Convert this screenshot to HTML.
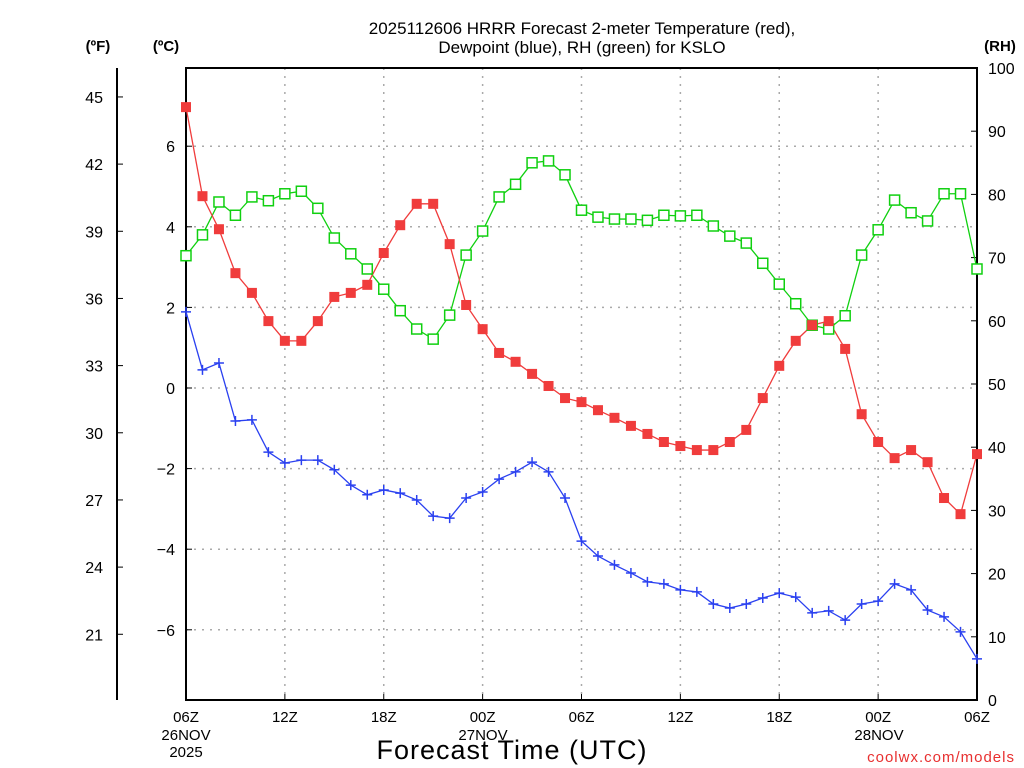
<!DOCTYPE html>
<html><head><meta charset="utf-8"><style>
body{margin:0;background:#fff;}
svg{display:block;font-family:"Liberation Sans",sans-serif;}
</style></head><body>
<svg id="chart" width="1024" height="768" viewBox="0 0 1024 768" xmlns="http://www.w3.org/2000/svg">
<rect width="1024" height="768" fill="#fff"/>
<g id="grid"></g><g id="axes"></g><g id="series"></g>
</svg>
<script>
const tempC=[6.97,4.76,3.94,2.85,2.36,1.66,1.17,1.17,1.66,2.26,2.36,2.56,3.35,4.04,4.57,4.57,3.57,2.06,1.46,0.87,0.65,0.35,0.05,-0.25,-0.35,-0.55,-0.74,-0.94,-1.14,-1.34,-1.44,-1.54,-1.54,-1.34,-1.04,-0.25,0.55,1.17,1.56,1.66,0.97,-0.65,-1.34,-1.74,-1.54,-1.84,-2.73,-3.13,-1.64];
const dewC=[1.89,0.45,0.62,-0.82,-0.79,-1.59,-1.86,-1.79,-1.79,-2.03,-2.41,-2.65,-2.53,-2.61,-2.78,-3.18,-3.23,-2.73,-2.58,-2.26,-2.08,-1.84,-2.08,-2.73,-3.80,-4.17,-4.39,-4.59,-4.81,-4.86,-5.01,-5.06,-5.36,-5.46,-5.36,-5.21,-5.09,-5.19,-5.58,-5.53,-5.76,-5.36,-5.29,-4.86,-5.01,-5.51,-5.68,-6.05,-6.72];
const rh=[70.3,73.6,78.8,76.7,79.6,79.0,80.1,80.5,77.8,73.1,70.6,68.2,65.0,61.6,58.7,57.1,60.9,70.4,74.2,79.6,81.6,85.0,85.3,83.1,77.5,76.4,76.1,76.1,75.9,76.7,76.6,76.7,75.0,73.4,72.3,69.1,65.8,62.7,59.3,58.7,60.8,70.4,74.4,79.1,77.1,75.8,80.1,80.1,68.2];
const xTickLabels=["06Z","12Z","18Z","00Z","06Z","12Z","18Z","00Z","06Z"];
const cTicks=[6,4,2,0,-2,-4,-6];
const fTicks=[45,42,39,36,33,30,27,24,21];
const rhTicks=[0,10,20,30,40,50,60,70,80,90,100];

const NS="http://www.w3.org/2000/svg";
const L=186,R=977,T=68,B=700;
const xS=i=>L+(R-L)*i/48;
const yC=c=>388-c*40.3;
const yF=f=>yC((f-32)*5/9);
const yRH=v=>B-(B-T)*v/100;
function mk(tag,attrs,parent,text){const e=document.createElementNS(NS,tag);for(const k in attrs)e.setAttribute(k,attrs[k]);if(text!==undefined)e.textContent=text;(parent||document.getElementById('chart')).appendChild(e);return e;}
const grid=document.getElementById('grid'),axes=document.getElementById('axes'),ser=document.getElementById('series');

// grid
xTickLabels.forEach((t,k)=>{const x=xS(k*6);if(k>0&&k<8){const g=mk('line',{x1:x,x2:x,y1:T,y2:B,stroke:'#aaa','stroke-dasharray':'2,6','stroke-width':1.5},grid);}});
cTicks.forEach(c=>{const g=mk('line',{x1:L,x2:R,y1:yC(c),y2:yC(c),stroke:'#aaa','stroke-dasharray':'2,6','stroke-width':1.5},grid);});

// frame
let e=mk('rect',{x:L,y:T,width:R-L,height:B-T,fill:'none',stroke:'#000','stroke-width':2},axes);
e=mk('line',{x1:117,x2:117,y1:T,y2:B,stroke:'#000','stroke-width':2},axes);

fTicks.forEach(f=>{const y=yF(f);mk('line',{x1:117,x2:123,y1:y,y2:y,stroke:'#000'},axes);const t=mk('text',{x:103,y:y+6,'text-anchor':'end','font-size':16},axes,String(f));});
cTicks.forEach(c=>{const y=yC(c);mk('line',{x1:L,x2:L+6,y1:y,y2:y,stroke:'#000'},axes);const t=mk('text',{x:175,y:y+6,'text-anchor':'end','font-size':16},axes,(c<0?'\u2212'+(-c):String(c)));});
rhTicks.forEach(v=>{const y=yRH(v);mk('line',{x1:R-6,x2:R,y1:y,y2:y,stroke:'#000'},axes);const t=mk('text',{x:988,y:y+6,'font-size':16},axes,String(v));});
xTickLabels.forEach((lab,k)=>{const x=xS(k*6);mk('line',{x1:x,x2:x,y1:B-6,y2:B,stroke:'#000'},axes);const t=mk('text',{x:x,y:722,'text-anchor':'middle','font-size':15},axes,lab);});
[[186,'26NOV',740],[186,'2025',757],[483,'27NOV',740],[879,'28NOV',740]].forEach(d=>{const t=mk('text',{x:d[0],y:d[2],'text-anchor':'middle','font-size':15},axes,d[1]);});

// units & titles
[[98,'(ºF)'],[166,'(ºC)'],[1000,'(RH)']].forEach(d=>{const t=mk('text',{x:d[0],y:51,'text-anchor':'middle','font-size':15,'font-weight':'bold'},axes,d[1]);});
e=mk('text',{x:582,y:34,'text-anchor':'middle','font-size':17},axes,'2025112606 HRRR Forecast 2-meter Temperature (red),');
e=mk('text',{x:582,y:53,'text-anchor':'middle','font-size':17},axes,'Dewpoint (blue), RH (green) for KSLO');
e=mk('text',{x:512,y:759,'text-anchor':'middle','font-size':27,'letter-spacing':1},axes,'Forecast Time (UTC)');
e=mk('text',{x:1015,y:762,'text-anchor':'end','font-size':15,fill:'#e83030','letter-spacing':1},axes,'coolwx.com/models');

// series
function line(arr,yf,color,name){const p=arr.map((v,i)=>xS(i)+','+yf(v)).join(' ');const l=mk('polyline',{points:p,fill:'none',stroke:color,'stroke-width':1.3},ser);}
line(rh,yRH,'#10d010','rh-line');
line(tempC,yC,'#f03c3c','temperature-line');
line(dewC,yC,'#2a40f0','dewpoint-line');
rh.forEach((v,i)=>{const m=mk('rect',{x:xS(i)-5,y:yRH(v)-5,width:10,height:10,fill:'#fff',stroke:'#10d010','stroke-width':1.5},ser);});
tempC.forEach((v,i)=>{const m=mk('rect',{x:xS(i)-5,y:yC(v)-5,width:10,height:10,fill:'#f03c3c'},ser);});
dewC.forEach((v,i)=>{const x=xS(i),y=yC(v);const m=mk('path',{d:`M${x-5},${y}H${x+5}M${x},${y-5}V${y+5}`,stroke:'#2a40f0','stroke-width':1.5},ser);});
</script>
</body></html>
